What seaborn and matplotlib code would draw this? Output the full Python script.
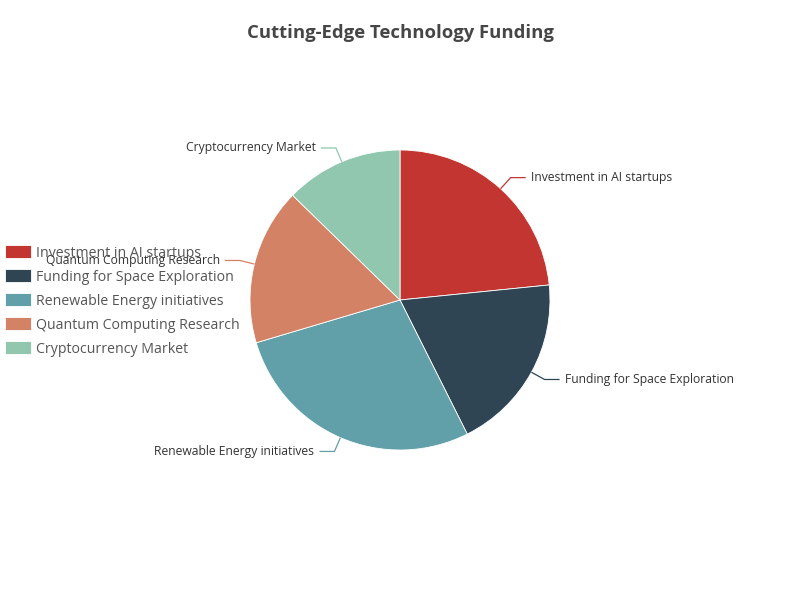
import numpy as np
import seaborn as sns
import matplotlib.pyplot as plt

# data
categories = ["Investment in AI startups", "Funding for Space Exploration",
              "Renewable Energy initiatives", "Quantum Computing Research",
              "Cryptocurrency Market"]
funding = [23.4, 19.2, 27.8, 16.9, 12.7]
slice_colors = ["#c23531", "#2f4554", "#61a0a8", "#d48265", "#91c7ae"]

sns.set_theme(style="white")
plt.rcParams['font.family'] = ['Open Sans', 'DejaVu Sans']
palette = sns.color_palette(slice_colors)

fig = plt.figure(figsize=(8, 6), dpi=100)
ax = fig.add_axes([0, 0, 1, 1])

cx, cy, r = 400, 300, 150
wedges, _ = ax.pie(funding, colors=palette, startangle=90, counterclock=False,
                   center=(cx, cy), radius=r, frame=True,
                   wedgeprops=dict(edgecolor='white', linewidth=0.6))
ax.set_xlim(0, 800)
ax.set_ylim(0, 600)
ax.axis('off')

# outside labels with two-part leader lines
for w, name, col in zip(wedges, categories, slice_colors):
    mid = np.deg2rad((w.theta1 + w.theta2) / 2)
    x1, y1 = cx + r * np.cos(mid), cy + r * np.sin(mid)
    x2, y2 = cx + (r + 15) * np.cos(mid), cy + (r + 15) * np.sin(mid)
    side = 1 if np.cos(mid) >= 0 else -1
    x3 = x2 + side * 15
    ax.plot([x1, x2, x3], [y1, y2, y2], color=col, lw=0.9, solid_capstyle='butt')
    ax.text(x3 + side * 5, y2, name, fontsize=8.7, color='#333333',
            ha='left' if side > 0 else 'right', va='center')

leg = ax.legend(wedges, categories, loc='center left',
                bbox_to_anchor=(5 / 800, 0.5 - 1 / 600), frameon=False,
                fontsize=10.2, handlelength=1.85, handleheight=1.0,
                handletextpad=0.36, labelspacing=0.62, borderpad=0, borderaxespad=0)
for t in leg.get_texts():
    t.set_color('#555555')

fig.text(0.5, 1 - 33 / 600, "Cutting-Edge Technology Funding", ha='center',
         va='center', fontsize=13.3, fontweight='bold', color='#464646')

fig.savefig("out.png", dpi=100)
